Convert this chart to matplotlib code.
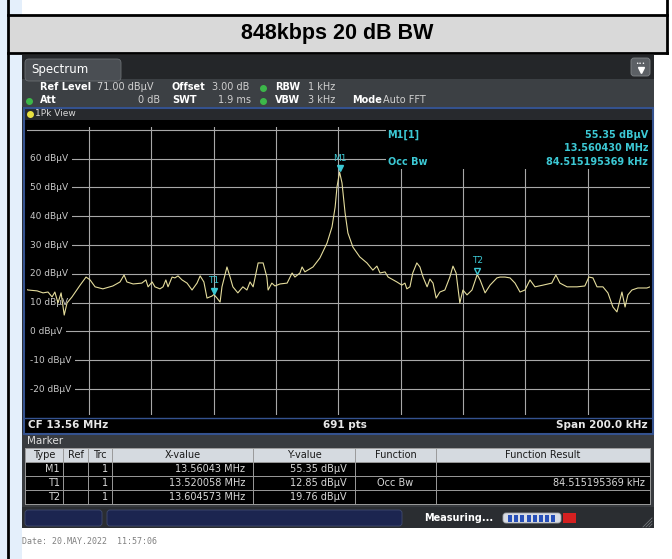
import matplotlib.pyplot as plt
import matplotlib.patches as mpatches
from matplotlib.transforms import blended_transform_factory
import numpy as np

# trace: offset from CF in kHz, level in dBuV
cf_mhz = 13.56
offset_khz = [-100, -99.5, -96.6, -94.7, -93.1, -91.8, -90.9, -89.9, -88.9, -87.9,
              -87.0, -85.4, -82.8, -80.9, -79.6, -78.0, -75.5, -72.3, -70.0, -68.7,
              -67.8, -65.8, -63.0, -61.7, -61.0, -59.7, -58.8, -57.2, -56.2, -55.3,
              -54.6, -53.3, -52.4, -51.4, -50.1, -48.5, -46.9, -45.3, -44.3, -43.1,
              -42.1, -40.5, -39.9, -38.9, -37.9, -37.3, -35.7, -34.7, -33.8, -32.2,
              -30.6, -29.3, -28.3, -27.3, -25.7, -24.1, -22.9, -22.5, -21.3, -20.3,
              -18.7, -16.4, -14.8, -13.9, -12.3, -11.6, -10.7, -8.1, -5.9, -3.6,
              -2.0, -1.0, -0.4, 0.43, 1.2, 2.2, 3.1, 4.7, 6.9, 9.2,
              11.1, 12.4, 13.4, 15.0, 16.0, 18.8, 20.4, 21.4, 22.0, 23.0,
              23.9, 25.2, 26.2, 27.2, 28.5, 29.4, 30.4, 31.4, 32.6, 34.2,
              35.8, 36.8, 37.8, 39.0, 40.0, 41.3, 42.9, 44.57, 45.5, 47.1,
              48.7, 50.9, 51.9, 53.5, 55.1, 56.7, 58.3, 59.9, 61.5, 63.1,
              65.7, 68.5, 69.8, 71.1, 73.4, 76.6, 79.1, 80.4, 81.7, 83.0,
              84.9, 86.5, 88.1, 89.4, 91.0, 92.0, 92.9, 94.2, 96.1, 99.0, 100]
level_dbuv = [14.6, 14.4, 14.1, 13.4, 13.7, 12.0, 13.7, 9.9, 13.4, 5.7,
              9.9, 12.0, 16.1, 18.9, 17.9, 15.5, 14.8, 15.8, 17.2, 19.6,
              17.2, 16.5, 16.8, 17.9, 15.5, 17.2, 15.5, 14.8, 15.5, 17.9,
              15.5, 18.9, 18.6, 19.3, 17.9, 16.8, 14.4, 16.8, 19.3, 17.2,
              11.6, 12.3, 12.85, 11.6, 10.2, 15.5, 22.4, 18.9, 15.5, 13.4,
              15.5, 14.4, 17.2, 15.5, 23.8, 23.8, 18.9, 14.4, 16.8, 15.8,
              16.5, 16.8, 20.3, 18.9, 20.3, 22.4, 20.7, 22.4, 25.5, 30.7,
              36.3, 43.2, 50.2, 55.35, 51.6, 41.1, 34.2, 29.3, 25.9, 23.8,
              21.3, 22.7, 20.3, 20.7, 18.9, 17.2, 16.1, 16.8, 14.8, 15.5,
              20.3, 23.8, 22.4, 18.9, 15.5, 18.2, 16.8, 11.6, 13.7, 14.4,
              18.9, 22.7, 20.3, 9.9, 14.4, 12.7, 14.4, 19.76, 17.9, 13.4,
              16.1, 18.6, 18.9, 18.9, 18.6, 16.8, 13.7, 14.4, 17.9, 15.5,
              16.1, 16.8, 19.6, 16.8, 15.5, 15.5, 15.8, 18.9, 18.6, 15.5,
              15.5, 13.4, 8.5, 6.8, 13.7, 8.5, 12.7, 14.4, 15.1, 15.1, 15.5]

marker_names = ['M1', 'T1', 'T2']
marker_freq = [13.56043, 13.520058, 13.604573]
marker_level = [55.35, 12.85, 19.76]
marker_xtext = ['13.56043 MHz', '13.520058 MHz', '13.604573 MHz']
marker_ytext = ['55.35 dB\u00b5V', '12.85 dB\u00b5V', '19.76 dB\u00b5V']
marker_func = ['', 'Occ Bw', '']
marker_result = ['', '84.515195369 kHz', '']

ref_level = 71.0
y_grid = [70, 60, 50, 40, 30, 20, 10, 0, -10, -20]

freq = cf_mhz + np.array(offset_khz) / 1000.0

fig = plt.figure(figsize=(6.72, 5.59), dpi=100)
bg = fig.add_axes([0, 0, 1, 1])
bg.set_xlim(0, 672)
bg.set_ylim(559, 0)
bg.axis('off')


def box(x0, y0, x1, y1, color, ec='none', lw=0, z=1):
    bg.add_patch(mpatches.Rectangle((x0, y0), x1 - x0, y1 - y0, fc=color, ec=ec, lw=lw, zorder=z))


def txt(x, y, s, color='white', size=7, ha='left', weight='normal', **kw):
    bg.text(x, y, s, color=color, fontsize=size, ha=ha, va='center', fontweight=weight, zorder=5, **kw)


# page / table decoration
box(0, 0, 22, 559, '#e4effb')
box(8, 15, 667, 53, '#d9d9d9')
bg.plot([8, 8], [0, 559], color='black', lw=2, zorder=3)
bg.plot([667, 667], [0, 53], color='black', lw=2, zorder=3)
bg.plot([8, 667], [15, 15], color='black', lw=2, zorder=3)
bg.plot([8, 667], [53, 53], color='black', lw=2, zorder=3)
bg.text(337, 34, '848kbps 20 dB BW', fontsize=15.5, fontweight='bold', ha='center', va='center',
        family='Liberation Sans', color='black', zorder=5)

# instrument screenshot
box(22, 55, 654, 512, '#2d3034')
box(22, 55, 654, 79, '#242629')
bg.add_patch(mpatches.FancyBboxPatch((25, 59), 96, 22, boxstyle='round,pad=0,rounding_size=4',
                                     fc='#4a4e53', ec='#6a6e72', lw=0.6, zorder=2))
txt(31, 69, 'Spectrum', size=8.5)
bg.add_patch(mpatches.FancyBboxPatch((631, 58), 19, 18, boxstyle='round,pad=0,rounding_size=3',
                                     fc='#5c6065', ec='#808488', lw=0.6, zorder=2))
txt(640.5, 63, '\u2022\u2022\u2022', size=4, ha='center')
bg.plot([640.5], [70], marker='v', color='white', ms=4, zorder=6)
box(22, 79, 654, 107, '#3c4044')

txt(40, 87, 'Ref Level', weight='bold')
txt(97, 87, '71.00 dB\u00b5V', color='#d0d0d0')
txt(172, 87, 'Offset', weight='bold')
txt(212, 87, '3.00 dB', color='#d0d0d0')
txt(275, 87, 'RBW', weight='bold')
txt(308, 87, '1 kHz', color='#d0d0d0')
txt(40, 100, 'Att', weight='bold')
txt(160, 100, '0 dB', color='#d0d0d0', ha='right')
txt(172, 100, 'SWT', weight='bold')
txt(251, 100, '1.9 ms', color='#d0d0d0', ha='right')
txt(275, 100, 'VBW', weight='bold')
txt(308, 100, '3 kHz', color='#d0d0d0')
txt(352, 100, 'Mode', weight='bold')
txt(383, 100, 'Auto FFT', color='#d0d0d0')
for (gx, gy) in [(263, 88), (29, 101), (263, 101)]:
    bg.plot([gx], [gy], 'o', color='#3cb84a', ms=4, zorder=6)

# view frame
box(24, 108, 652, 120, '#27292d')
box(24, 120, 652, 433, 'black')
bg.add_patch(mpatches.Rectangle((23.5, 107.5), 629, 326, fc='none', ec='#34528f', lw=1.5, zorder=4))
bg.plot([30], [114], 'o', color='#e8e040', ms=4, zorder=6)
txt(35, 114, '1Pk View', color='#d8d8d8', size=6.5)

# bottom line of the diagram
txt(28, 425, 'CF 13.56 MHz', size=7.5, weight='bold', color='#e8e8e8')
txt(345, 425, '691 pts', size=7.5, weight='bold', color='#e8e8e8', ha='center')
txt(648, 425, 'Span 200.0 kHz', size=7.5, weight='bold', color='#e8e8e8', ha='right')
bg.plot([24, 652], [418, 418], color='#34528f', lw=1, zorder=4)

# spectrum diagram
ax = fig.add_axes([26.5 / 672, 1 - 415 / 559, 623.5 / 672, 288 / 559])
ax.set_facecolor('black')
ax.set_xlim(cf_mhz - 0.1, cf_mhz + 0.1)
ax.set_ylim(ref_level - 100, ref_level)
for s in ax.spines.values():
    s.set_visible(False)
ax.set_xticks([])
ax.set_yticks([])
for k in range(1, 10):
    ax.axvline(cf_mhz - 0.1 + 0.02 * k, color='#a8a8a8', lw=0.8, zorder=1)
for g in y_grid:
    ax.axhline(g, color='#a8a8a8', lw=0.8, zorder=1)
tr = blended_transform_factory(ax.transAxes, ax.transData)
for g in y_grid[1:]:
    ax.text(0.005, g, '%d dB\u00b5V' % g, transform=tr, color='#c8c8c8', fontsize=6.5, va='center',
            ha='left', zorder=2, bbox=dict(fc='black', ec='none', pad=3))

# marker info field
ax.add_patch(mpatches.Rectangle((0.577, 0.855), 0.43, 0.2, transform=ax.transAxes, fc='black',
                                ec='none', zorder=2))
cyan = '#3cc8d4'
ax.text(0.579, 0.972, 'M1[1]', transform=ax.transAxes, color=cyan, fontsize=7, fontweight='bold', va='center')
ax.text(0.997, 0.972, '55.35 dB\u00b5V', transform=ax.transAxes, color=cyan, fontsize=7, fontweight='bold',
        va='center', ha='right')
ax.text(0.997, 0.927, '13.560430 MHz', transform=ax.transAxes, color=cyan, fontsize=7, fontweight='bold',
        va='center', ha='right')
ax.text(0.579, 0.879, 'Occ Bw', transform=ax.transAxes, color=cyan, fontsize=7, fontweight='bold', va='center')
ax.text(0.997, 0.879, '84.515195369 kHz', transform=ax.transAxes, color=cyan, fontsize=7, fontweight='bold',
        va='center', ha='right')

ax.plot(freq, level_dbuv, color='#e4dc9c', lw=0.8, zorder=3)

for name, f, lv in zip(marker_names, marker_freq, marker_level):
    filled = name != 'T2'
    ax.plot([f], [lv + 1.3], marker='v', ms=5, color=cyan, mfc=cyan if filled else 'none', mew=1, zorder=4)
    ax.text(f, lv + 3.2, name, color=cyan, fontsize=6.5, ha='center', va='bottom', zorder=4)

# marker table
box(22, 433, 654, 507, '#383b3f')
txt(27, 441, 'Marker', size=7.5, color='#e0e0e0')
cols = [25, 63, 88, 112, 253, 355, 436, 650]
heads = ['Type', 'Ref', 'Trc', 'X-value', 'Y-value', 'Function', 'Function Result']
rows_y = [448, 462, 476, 490, 504]
box(25, 448, 650, 462, '#d5dae0', z=2)
box(25, 462, 650, 504, 'black', z=2)
for i, h in enumerate(heads):
    txt((cols[i] + cols[i + 1]) / 2, 455, h, color='#1a1a1a', size=7, ha='center')
for xc in cols:
    bg.plot([xc, xc], [448, 504], color='#9a9a9a', lw=0.7, zorder=3)
for yr in rows_y:
    bg.plot([25, 650], [yr, yr], color='#9a9a9a', lw=0.7, zorder=3)
for r in range(3):
    yc = (rows_y[r + 1] + rows_y[r + 2]) / 2
    txt(cols[1] - 3, yc, marker_names[r], color='#d8d8d8', ha='right')
    txt(cols[3] - 4, yc, '1', color='#d8d8d8', ha='right')
    txt(cols[4] - 8, yc, marker_xtext[r], color='#d8d8d8', ha='right')
    txt(cols[5] - 8, yc, marker_ytext[r], color='#d8d8d8', ha='right')
    txt((cols[5] + cols[6]) / 2, yc, marker_func[r], color='#d8d8d8', ha='center')
    txt(cols[7] - 5, yc, marker_result[r], color='#d8d8d8', ha='right')

# status bar
box(22, 507, 654, 528, '#2a2d31')
bg.add_patch(mpatches.FancyBboxPatch((25, 510), 77, 16, boxstyle='round,pad=0,rounding_size=3',
                                     fc='#1c2550', ec='#404a70', lw=0.6, zorder=2))
bg.add_patch(mpatches.FancyBboxPatch((107, 510), 295, 16, boxstyle='round,pad=0,rounding_size=3',
                                     fc='#1c2550', ec='#404a70', lw=0.6, zorder=2))
txt(424, 518, 'Measuring...', size=7, weight='bold')
bg.add_patch(mpatches.FancyBboxPatch((503, 513), 58, 10, boxstyle='round,pad=0,rounding_size=3',
                                     fc='#d8dce4', ec='#a0a4aa', lw=0.6, zorder=2))
for k in range(8):
    box(508 + 6.2 * k, 514.5, 512 + 6.2 * k, 521.5, '#2850b8', z=3)
box(563, 513, 576, 523, '#d42020', z=3)
for k in range(4):
    bg.plot([643 + 3 * k, 652], [527, 518 + 3 * k], color='#707478', lw=0.6, zorder=3)

txt(22, 541, 'Date: 20.MAY.2022  11:57:06', color='#808080', size=6, family='DejaVu Sans Mono')

fig.savefig('out.png', dpi=100)
